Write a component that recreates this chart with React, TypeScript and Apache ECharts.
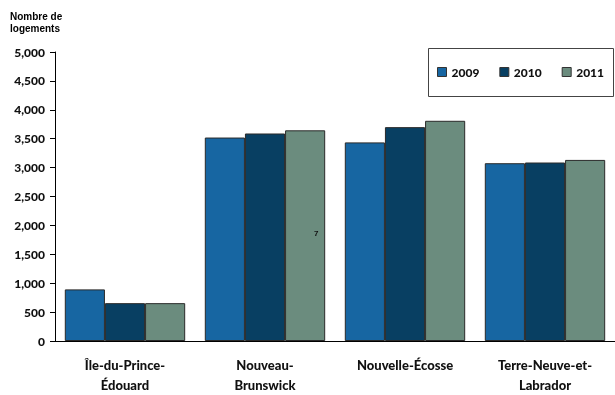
import React, { useEffect, useRef } from "react";
import * as echarts from "echarts";

const categories = ["Île-du-Prince-\nÉdouard", "Nouveau-\nBrunswick", "Nouvelle-Écosse", "Terre-Neuve-et-\nLabrador"];
const years = ["2009", "2010", "2011"];
const values2009 = [893, 3520, 3436, 3076];
const values2010 = [655, 3590, 3700, 3088];
const values2011 = [655, 3645, 3810, 3133];
const colors = ["#1766A2", "#083F62", "#6B8C7E"];

export default function App() {
  const ref = useRef<HTMLDivElement>(null);
  useEffect(() => {
    const chart = echarts.init(ref.current!, null, { renderer: "svg" });
    const font = "Lato";
    const seriesData = [values2009, values2010, values2011];
    chart.setOption({
      animation: false,
      textStyle: { fontFamily: font },
      grid: { left: 55, top: 52, height: 291, width: 568 },
      legend: {
        data: years.map((y) => ({ name: y, icon: "rect" })),
        left: 437,
        top: 66,
        padding: 0,
        width: 175,
        itemWidth: 9,
        itemHeight: 9,
        itemGap: 20,
        textStyle: { fontFamily: font, fontWeight: 900, fontSize: 12, color: "#111" },
        itemStyle: { borderColor: "#333", borderWidth: 1 },
      },
      xAxis: {
        type: "category",
        data: categories,
        axisLine: { lineStyle: { color: "#000", width: 1 } },
        axisTick: { show: false },
        axisLabel: {
          interval: 0,
          fontFamily: font,
          fontWeight: 900,
          fontSize: 13,
          color: "#111",
          lineHeight: 20,
          margin: 14,
        },
      },
      yAxis: {
        type: "value",
        min: 0,
        max: 5000,
        interval: 500,
        splitLine: { show: false },
        axisLine: { show: true, lineStyle: { color: "#000", width: 1 } },
        axisTick: { show: true, length: 5, lineStyle: { color: "#000" } },
        axisLabel: {
          fontFamily: font,
          fontWeight: 900,
          fontSize: 12,
          color: "#111",
          margin: 10,
          formatter: (v: number) => v.toLocaleString("en-US"),
        },
      },
      series: years.map((y, i) => ({
        name: y,
        type: "bar",
        data: seriesData[i],
        barGap: "0%",
        barCategoryGap: "14%",
        itemStyle: { color: colors[i], borderColor: "#2a2a2a", borderWidth: 1 },
      })),
      graphic: [
        {
          type: "rect",
          z: 0,
          shape: { x: 428.5, y: 48.5, width: 185, height: 48 },
          style: { fill: "#fff", stroke: "#444", lineWidth: 1 },
        },
        {
          type: "text",
          left: 10,
          top: 10,
          style: {
            text: "Nombre de\nlogements",
            font: "bold 10px 'Liberation Sans'",
            fill: "#000",
            lineHeight: 12,
            align: "center",
          },
        },
        {
          type: "text",
          z: 100,
          left: 314,
          top: 229,
          style: { text: "7", font: "bold 8px 'Liberation Sans'", fill: "#111" },
        },
      ],
    });
    return () => chart.dispose();
  }, []);
  return <div ref={ref} style={{ position: "fixed", left: 0, top: 0, width: 615, height: 395 }} />;
}
